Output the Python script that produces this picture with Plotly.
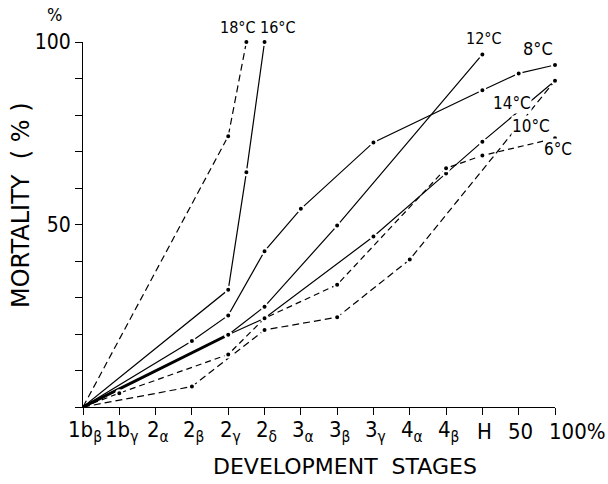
import plotly.graph_objects as go

# Development stages on the x axis (index 0 .. 13)
stage_labels = ["1b<sub>β</sub>", "1b<sub>γ</sub>", "2<sub>α</sub>", "2<sub>β</sub>",
                "2<sub>γ</sub>", "2<sub>δ</sub>", "3<sub>α</sub>", "3<sub>β</sub>",
                "3<sub>γ</sub>", "4<sub>α</sub>", "4<sub>β</sub>", "H", "50", "100%"]
stage_index = list(range(len(stage_labels)))

# Cumulative mortality (%) per temperature; x = stage index
t18_x = [0, 4, 4.5]
t18_y = [0, 74.2, 100]
t16_x = [0, 4, 4.5, 5]
t16_y = [0, 32.1, 64.3, 100]
t12_x = [0, 4, 5, 7, 11]
t12_y = [0, 19.8, 27.5, 49.7, 96.6]
t14_x = [0, 4, 5, 8, 10, 11, 13]
t14_y = [0, 19.8, 24.3, 46.7, 64.0, 72.7, 89.4]
t8_x = [0, 3, 4, 5, 6, 8, 11, 12, 13]
t8_y = [0, 18.1, 25.1, 42.7, 54.3, 72.5, 86.8, 91.4, 93.7]
t10_x = [0, 3, 5, 7, 9, 13]
t10_y = [0, 5.6, 21.1, 24.6, 40.4, 89.4]
t6_x = [0, 1, 4, 5, 7, 10, 11, 13]
t6_y = [0, 3.8, 14.4, 24.3, 33.5, 65.4, 68.9, 73.6]

y_labelled = [50, 100]
y_minor = list(range(0, 101, 10))

curves = [
    ("18°C", t18_x, t18_y, "7px,4px"),
    ("16°C", t16_x, t16_y, "solid"),
    ("12°C", t12_x, t12_y, "solid"),
    ("14°C", t14_x, t14_y, "solid"),
    ("8°C", t8_x, t8_y, "solid"),
    ("10°C", t10_x, t10_y, "7px,4px"),
    ("6°C", t6_x, t6_y, "6px,4px"),
]

COND = "DejaVu Sans Condensed, Liberation Sans Narrow, DejaVu Sans, sans-serif"
REG = "DejaVu Sans, sans-serif"

fig = go.Figure()
for name, xs, ys, dash in curves:
    fig.add_trace(go.Scatter(
        x=xs, y=ys, mode="lines", name=name, showlegend=False, cliponaxis=False,
        line=dict(color="black", width=1.2, dash=dash),
    ))

# shared heavy start of the 12°C / 14°C curves
fig.add_trace(go.Scatter(
    x=t14_x[:2], y=t14_y[:2], mode="lines", showlegend=False, cliponaxis=False,
    line=dict(color="black", width=3),
))

for name, xs, ys, dash in curves:
    fig.add_trace(go.Scatter(
        x=xs[1:], y=ys[1:], mode="markers", showlegend=False, cliponaxis=False,
        marker=dict(color="black", size=6, line=dict(color="white", width=2)),
    ))

# plot area geometry (pixels)
L, T, W, H = 83, 42, 472, 365


def paper(px, py):
    return (px - L) / W, (T + H - py) / H


labels = [
    ("18°C", 238, 27, 16), ("16°C", 278, 27, 16), ("12°C", 484, 39, 16),
    ("8°C", 538, 48, 18), ("14°C", 512, 103, 17), ("10°C", 531, 126, 17),
    ("6°C", 558, 149, 17), ("%", 54, 15, 18),
]
annotations = []
for text, px, py, size in labels:
    ax, ay = paper(px, py)
    annotations.append(dict(
        text=text, x=ax, y=ay, xref="paper", yref="paper", showarrow=False,
        xanchor="center", yanchor="middle", bgcolor="white", borderpad=0,
        font=dict(family=COND, size=size, color="black"),
    ))

# stage names under the x axis ticks
_, label_y = paper(0, 431)
for i, text in zip(stage_index, stage_labels):
    last = i == stage_index[-1]
    annotations.append(dict(
        text=text, x=i, y=label_y, xref="x", yref="paper", showarrow=False,
        xanchor="left" if last else "center", yanchor="middle",
        xshift=-8 if last else 2,
        font=dict(family=COND, size=22, color="black"),
    ))

tx, ty = paper(345, 466)
annotations.append(dict(
    text="DEVELOPMENT  STAGES", x=tx, y=ty, xref="paper", yref="paper",
    showarrow=False, xanchor="center", yanchor="middle",
    font=dict(family=REG, size=22, color="black"),
))
vx, vy = paper(21, 205)
annotations.append(dict(
    text="MORTALITY  ( % )", x=vx, y=vy, xref="paper", yref="paper",
    showarrow=False, xanchor="center", yanchor="middle", textangle=-90,
    font=dict(family=REG, size=24, color="black"),
))

fig.update_layout(
    width=608, height=484,
    margin=dict(l=L, r=608 - L - W, t=T, b=484 - T - H),
    paper_bgcolor="white", plot_bgcolor="white",
    annotations=annotations,
    xaxis=dict(
        range=[0, 13], tickmode="array", tickvals=stage_index, showticklabels=False,
        ticks="outside", ticklen=7, tickwidth=1, tickcolor="black",
        showline=True, linecolor="black", linewidth=1.2,
        showgrid=False, zeroline=False,
    ),
    yaxis=dict(
        range=[0, 100], tickmode="array", tickvals=y_labelled,
        ticktext=[str(v) for v in y_labelled],
        ticks="outside", ticklen=7, tickwidth=1, tickcolor="black",
        minor=dict(tickmode="array", tickvals=y_minor, ticks="outside", ticklen=7,
                   tickwidth=1, tickcolor="black", showgrid=False),
        showline=True, linecolor="black", linewidth=1.2,
        showgrid=False, zeroline=False,
        tickfont=dict(family=COND, size=21, color="black"),
    ),
)

fig.write_html("out.html")
